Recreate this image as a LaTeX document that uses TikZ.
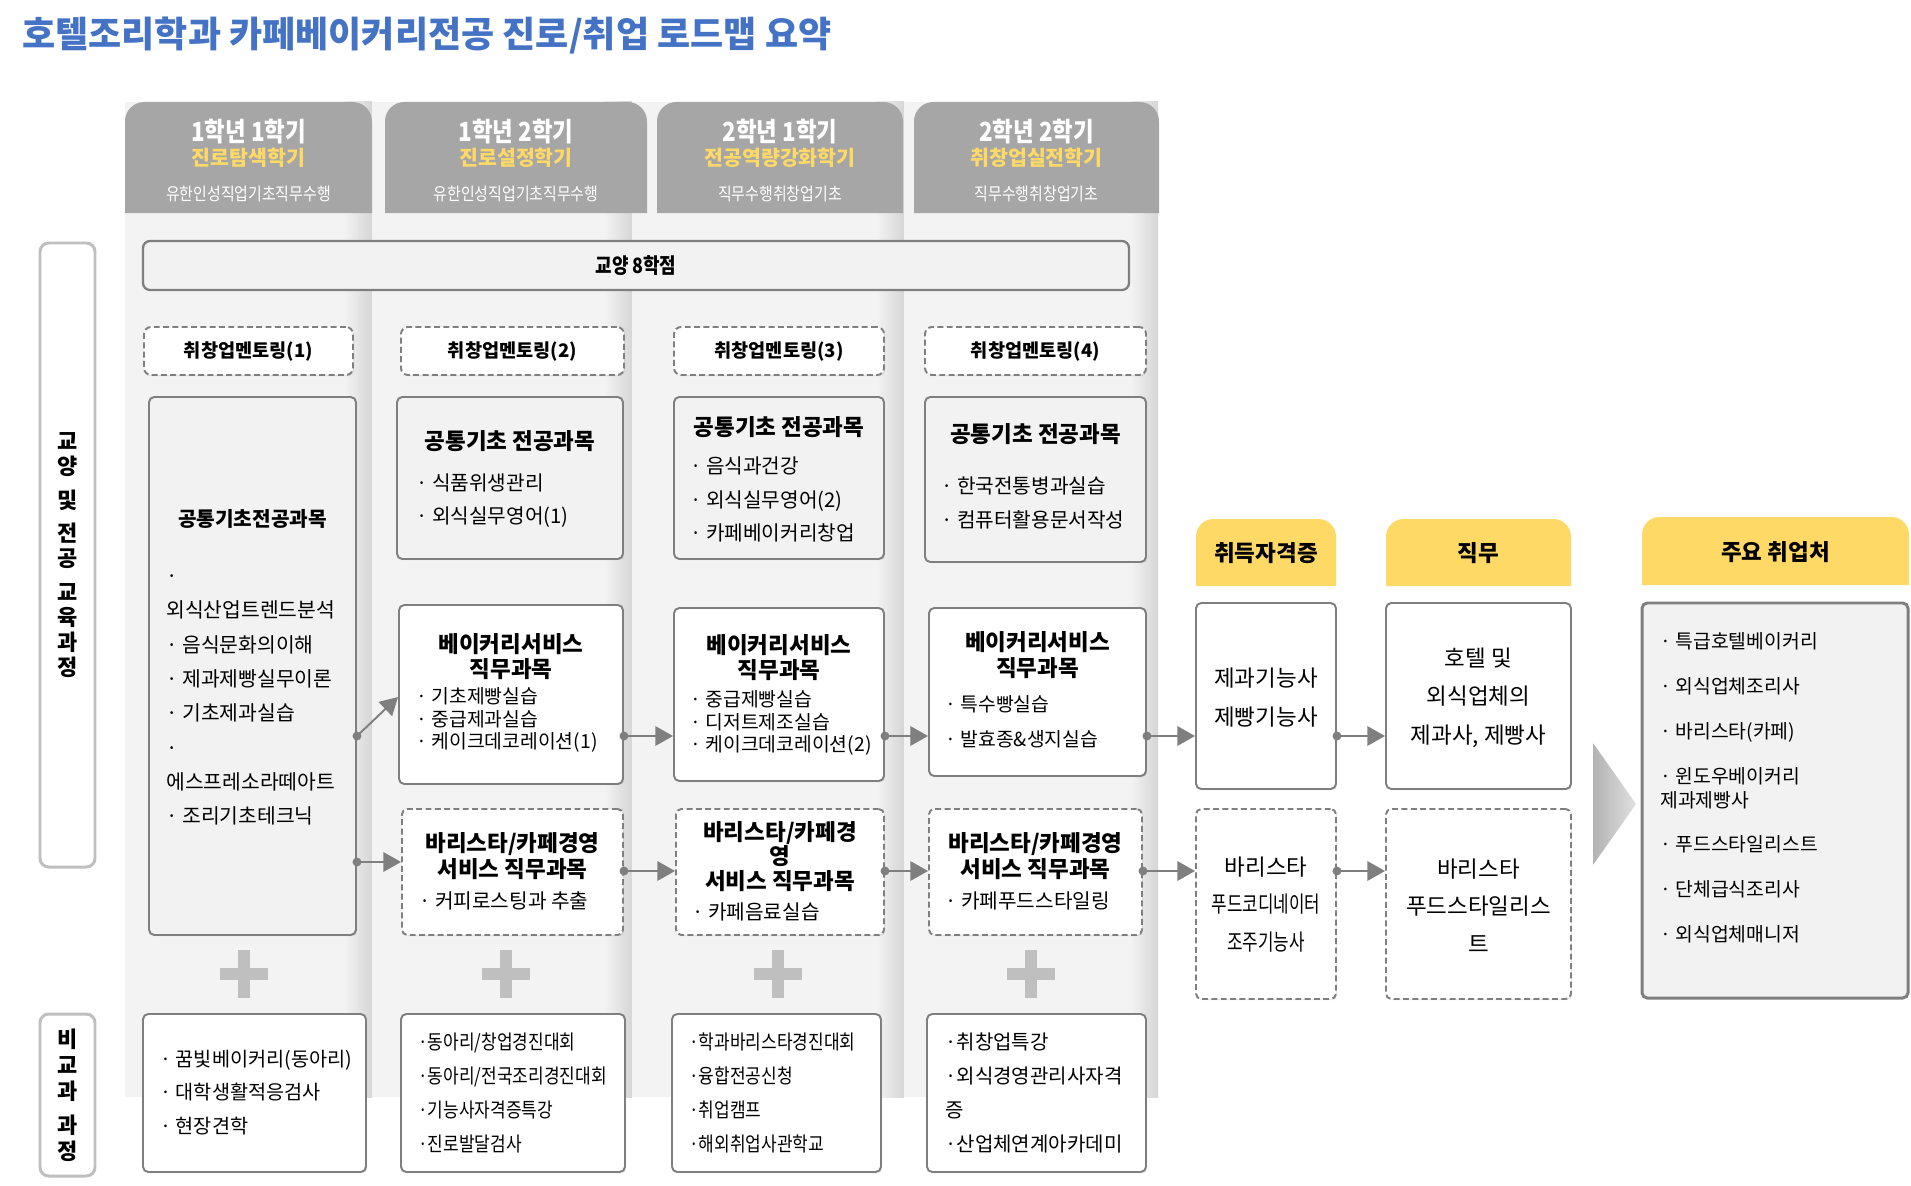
\documentclass[tikz,border=0pt]{standalone}
\usepackage{fontspec}
\setmainfont{Noto Sans CJK KR}
\newfontfamily\narrowfont[FakeStretch=0.85]{Noto Sans CJK KR}
\usepackage{xcolor}
\usepackage{tikz}
\usepackage{graphicx}
\usetikzlibrary{arrows.meta, positioning, calc, fit, shadows}

\definecolor{titleblue}{HTML}{4472C4}
\definecolor{headgray}{HTML}{A6A6A6}
\definecolor{headyellow}{HTML}{FFD966}
\definecolor{tabyellow}{HTML}{FFD966}
\definecolor{boxfill}{HTML}{F2F2F2}
\definecolor{boxline}{HTML}{7F7F7F}
\definecolor{colfill}{HTML}{F3F3F3}
\definecolor{coledge}{HTML}{D6D6D6}
\definecolor{plusgray}{HTML}{BFBFBF}
\definecolor{labelline}{HTML}{BFBFBF}

\tikzset{
  roadbox/.style={draw=boxline, line width=1.1pt, rounded corners=3pt, inner sep=0pt,
    drop shadow={shadow xshift=0.7pt, shadow yshift=-0.7pt, opacity=0.18}},
  graybox/.style={roadbox, fill=boxfill},
  whitebox/.style={roadbox, fill=white},
  dashbox/.style={roadbox, fill=white, dash pattern=on 3.4pt off 1.9pt},
  mentor/.style={dashbox, rounded corners=4pt},
  graybar/.style={draw=boxline, fill=boxfill, line width=1.3pt, rounded corners=4pt, inner sep=0pt},
  labelbox/.style={draw=labelline, fill=white, line width=1.7pt, rounded corners=5pt, inner sep=0pt},
  labeltext/.style={inner sep=0pt, align=center, font=\bfseries\fontsize{12.5}{14.2}\selectfont},
  titletext/.style={inner sep=0pt, anchor=west, text=titleblue, font=\bfseries\fontsize{20.5}{24}\selectfont},
  semtitle/.style={inner sep=0pt, text=white, font=\narrowfont\bfseries\fontsize{15}{17}\selectfont},
  semsub/.style={inner sep=0pt, text=headyellow, font=\bfseries\fontsize{11.7}{13}\selectfont},
  semnote/.style={inner sep=0pt, text=white, font=\narrowfont\fontsize{10}{11}\selectfont},
  centertext/.style={inner sep=0pt, font=\bfseries\fontsize{10.6}{12}\selectfont},
  boxtitle/.style={inner sep=0pt, align=center, font=\bfseries\fontsize{12.8}{14.5}\selectfont},
  itemtext/.style={inner sep=0pt, align=left, anchor=west, font=\fontsize{11.5}{19}\selectfont},
  tabtext/.style={inner sep=0pt, font=\bfseries\fontsize{12.8}{14}\selectfont},
  certtext/.style={inner sep=0pt, align=center, font=\fontsize{12.8}{22}\selectfont},
  plusmark/.style={draw=plusgray, line width=6.8pt},
  flow/.style={draw=boxline, line width=1.1pt, shorten <=-2.5pt,
    arrows={Circle[length=5pt]-Triangle[length=10pt,width=11pt]}}
}

\begin{document}
\begin{tikzpicture}[x=0.02cm, y=-0.02cm]
    \useasboundingbox (0,0) rectangle (1911,1186);

    % 제목
    \node[titletext] (title) at (22,36) {호텔조리학과 카페베이커리전공 진로/취업 로드맵 요약};

    % 학기별 열 배경
    \fill[colfill] (125,102) rectangle (372,1097);
    \shade[left color=colfill, right color=coledge] (344,102) rectangle (372,1097);
    \fill[colfill] (372,102) rectangle (632,1097);
    \shade[left color=colfill, right color=coledge] (604,102) rectangle (632,1097);
    \fill[colfill] (632,102) rectangle (904,1097);
    \shade[left color=colfill, right color=coledge] (876,102) rectangle (904,1097);
    \fill[colfill] (904,102) rectangle (1158,1097);
    \shade[left color=colfill, right color=coledge] (1130,102) rectangle (1158,1097);

    % 학기 헤더
    \fill[headgray, rounded corners=11pt] (125,213) -- (125,102) -- (372,102) -- (372,213);
    \node[semtitle] (sem1) at (248.5,132) {1학년 1학기};
    \node[semsub] (sem1b) at (248.5,158) {진로탐색학기};
    \node[semnote] (sem1c) at (248.5,194) {유한인성직업기초직무수행};

    \fill[headgray, rounded corners=11pt] (385,213) -- (385,102) -- (647,102) -- (647,213);
    \node[semtitle] (sem2) at (516,132) {1학년 2학기};
    \node[semsub] (sem2b) at (516,158) {진로설정학기};
    \node[semnote] (sem2c) at (516,194) {유한인성직업기초직무수행};

    \fill[headgray, rounded corners=11pt] (657,213) -- (657,102) -- (903,102) -- (903,213);
    \node[semtitle] (sem3) at (780,132) {2학년 1학기};
    \node[semsub] (sem3b) at (780,158) {전공역량강화학기};
    \node[semnote] (sem3c) at (780,194) {직무수행취창업기초};

    \fill[headgray, rounded corners=11pt] (914,213) -- (914,102) -- (1159,102) -- (1159,213);
    \node[semtitle] (sem4) at (1036.5,132) {2학년 2학기};
    \node[semsub] (sem4b) at (1036.5,158) {취창업실전학기};
    \node[semnote] (sem4c) at (1036.5,194) {직무수행취창업기초};

    % 왼쪽 구분 라벨
    \node[labelbox, fit={(40,243) (95,867)}] (lab1) {};
    \node[labeltext] (lab1t) at (lab1.center) {교\\양\\[5pt]및\\[5pt]전\\공\\[5pt]교\\육\\과\\정};
    \node[labelbox, fit={(40,1014) (95,1176)}] (lab2) {};
    \node[labeltext, font=\bfseries\fontsize{12.5}{14.8}\selectfont] (lab2t) at (lab2.center) {비\\교\\과\\[4.5pt]과\\정};

    % 교양, 멘토링
    \node[graybar, fit={(143,241) (1129,290)}] (liberal) {};
    \node[centertext, font=\narrowfont\bfseries\fontsize{12}{14}\selectfont] (liberalt) at (636,266) {교양 8학점};
    \node[mentor, fit={(144,327) (353,375)}] (ment1) {};
    \node[centertext] (ment1t) at (248.5,352) {취창업멘토링(1)};
    \node[mentor, fit={(401,327) (624,375)}] (ment2) {};
    \node[centertext] (ment2t) at (512.5,352) {취창업멘토링(2)};
    \node[mentor, fit={(674,327) (884,375)}] (ment3) {};
    \node[centertext] (ment3t) at (779,352) {취창업멘토링(3)};
    \node[mentor, fit={(925,327) (1146,375)}] (ment4) {};
    \node[centertext] (ment4t) at (1035.5,352) {취창업멘토링(4)};

    % 공통기초 전공과목
    \node[graybox, fit={(149,397) (356,935)}] (core1) {};
    \node[boxtitle, font=\bfseries\fontsize{11.5}{14}\selectfont] (core1t) at (252.5,519) {공통기초전공과목};
    \node[itemtext, font=\fontsize{11.6}{19.5}\selectfont] (core1i) at (166,700)
        {·\\외식산업트렌드분석\\· 음식문화의이해\\· 제과제빵실무이론\\· 기초제과실습\\·\\에스프레소라떼아트\\· 조리기초테크닉};

    \node[graybox, fit={(397,397) (623,559)}] (core2) {};
    \node[boxtitle] (core2t) at (510,441) {공통기초 전공과목};
    \node[itemtext] (core2i) at (416,500.5) {· 식품위생관리\\· 외식실무영어(1)};

    \node[graybox, fit={(674,397) (884,559)}] (core3) {};
    \node[boxtitle] (core3t) at (779,427) {공통기초 전공과목};
    \node[itemtext] (core3i) at (690,499.5) {· 음식과건강\\· 외식실무영어(2)\\· 카페베이커리창업};

    \node[graybox, fit={(925,397) (1146,562)}] (core4) {};
    \node[boxtitle] (core4t) at (1035.5,434) {공통기초 전공과목};
    \node[itemtext] (core4i) at (941,503) {· 한국전통병과실습\\· 컴퓨터활용문서작성};

    % 베이커리서비스 직무과목
    \node[whitebox, fit={(399,605) (623,784)}] (bake2) {};
    \node[boxtitle] (bake2t) at (511,656.5) {베이커리서비스\\직무과목};
    \node[itemtext, font=\fontsize{11}{12.8}\selectfont] (bake2i) at (416,720) {· 기초제빵실습\\· 중급제과실습\\· 케이크데코레이션(1)};

    \node[whitebox, fit={(674,608) (884,781)}] (bake3) {};
    \node[boxtitle] (bake3t) at (779,657.5) {베이커리서비스\\직무과목};
    \node[itemtext, font=\fontsize{11}{12.8}\selectfont] (bake3i) at (690,723) {· 중급제빵실습\\· 디저트제조실습\\· 케이크데코레이션(2)};

    \node[whitebox, fit={(929,608) (1146,776)}] (bake4) {};
    \node[boxtitle] (bake4t) at (1037.5,655) {베이커리서비스\\직무과목};
    \node[itemtext, font=\fontsize{11}{19.9}\selectfont] (bake4i) at (945,721.5) {· 특수빵실습\\· 발효종\&생지실습};

    % 바리스타/카페경영 서비스 직무과목
    \node[dashbox, fit={(402,809) (623,935)}] (bar2) {};
    \node[boxtitle] (bar2t) at (512.5,856) {바리스타/카페경영\\서비스 직무과목};
    \node[itemtext] (bar2i) at (419,901) {· 커피로스팅과 추출};

    \node[dashbox, fit={(676,809) (884,935)}] (bar3) {};
    \node[boxtitle, font=\bfseries\fontsize{12.8}{14}\selectfont] (bar3t) at (780,856.5) {바리스타/카페경\\영\\서비스 직무과목};
    \node[itemtext] (bar3i) at (692,912) {· 카페음료실습};

    \node[dashbox, fit={(929,809) (1142,935)}] (bar4) {};
    \node[boxtitle] (bar4t) at (1035.5,856) {바리스타/카페경영\\서비스 직무과목};
    \node[itemtext] (bar4i) at (945,901) {· 카페푸드스타일링};

    % 비교과 +
    \draw[plusmark] (244,950) -- (244,998) (220,974) -- (268,974);
    \draw[plusmark] (506,950) -- (506,998) (482,974) -- (530,974);
    \draw[plusmark] (778,950) -- (778,998) (754,974) -- (802,974);
    \draw[plusmark] (1031,950) -- (1031,998) (1007,974) -- (1055,974);

    % 비교과 과정
    \node[whitebox, fit={(143,1014) (366,1172)}] (etc1) {};
    \node[itemtext, font=\fontsize{11.2}{19}\selectfont] (etc1i) at (160,1092.5) {· 꿈빛베이커리(동아리)\\· 대학생활적응검사\\· 현장견학};
    \node[whitebox, fit={(401,1014) (625,1172)}] (etc2) {};
    \node[itemtext, font=\narrowfont\fontsize{11.4}{19.3}\selectfont] (etc2i) at (418,1093) {·동아리/창업경진대회\\·동아리/전국조리경진대회\\·기능사자격증특강\\·진로발달검사};
    \node[whitebox, fit={(672,1014) (881,1172)}] (etc3) {};
    \node[itemtext, font=\narrowfont\fontsize{11.4}{19.3}\selectfont] (etc3i) at (689,1093) {·학과바리스타경진대회\\·융합전공신청\\·취업캠프\\·해외취업사관학교};
    \node[whitebox, fit={(927,1014) (1146,1172)}] (etc4) {};
    \node[itemtext, font=\fontsize{11.4}{19.3}\selectfont] (etc4i) at (945,1093) {·취창업특강\\·외식경영관리사자격\\증\\·산업체연계아카데미};

    % 취득자격증, 직무, 주요 취업처
    \fill[tabyellow, rounded corners=10pt] (1196,586) -- (1196,519) -- (1336,519) -- (1336,586);
    \node[tabtext] (tab1) at (1266,553) {취득자격증};
    \fill[tabyellow, rounded corners=10pt] (1386,586) -- (1386,519) -- (1571,519) -- (1571,586);
    \node[tabtext] (tab2) at (1478.5,553) {직무};
    \fill[tabyellow, rounded corners=10pt] (1642,585) -- (1642,517) -- (1909,517) -- (1909,585);
    \node[tabtext] (tab3) at (1775.5,552) {주요 취업처};

    \node[whitebox, fit={(1196,603) (1336,789)}] (cert1) {};
    \node[certtext] (cert1t) at (1266,697.5) {제과기능사\\제빵기능사};
    \node[dashbox, fit={(1196,809) (1336,999)}] (cert2) {};
    \node[certtext, font=\fontsize{12.8}{21.3}\selectfont] (cert2t) at (1266,904.5)
        {바리스타\\\scalebox{0.75}[1]{푸드코디네이터}\\\scalebox{0.75}[1]{조주기능사}};
    \node[whitebox, fit={(1386,603) (1571,789)}] (job1) {};
    \node[certtext, font=\fontsize{12.8}{21.9}\selectfont] (job1t) at (1478.5,697.5) {호텔 및\\외식업체의\\제과사, 제빵사};
    \node[dashbox, fit={(1386,809) (1571,999)}] (job2) {};
    \node[certtext, font=\fontsize{12.8}{21.3}\selectfont] (job2t) at (1478.5,905.5) {바리스타\\푸드스타일리스\\트};

    % 큰 화살표
    \shade[left color=black!30, right color=black!12] (1593,743) -- (1636,804) -- (1593,865) -- cycle;

    \node[graybox, line width=1.7pt, fit={(1642,603) (1908,998)}] (emp) {};
    \node[itemtext, font=\fontsize{11}{13.7}\selectfont] (empi) at (1660,787.5)
        {· 특급호텔베이커리\\[12pt]· 외식업체조리사\\[12pt]· 바리스타(카페)\\[12pt]· 윈도우베이커리\\제과제빵사\\[11pt]· 푸드스타일리스트\\[12pt]· 단체급식조리사\\[12pt]· 외식업체매니저};

    % 연결 화살표
    \coordinate (rowA) at (0,736);
    \coordinate (rowB) at (0,871);
    \coordinate (rowC) at (0,862);
    \coordinate (rowD) at (0,697);
    \draw[flow] (core1.east |- rowA) -- (bake2.west |- rowD);
    \draw[flow] (core1.east |- rowC) -- (bar2.west |- rowC);
    \draw[flow] (bake2.east |- rowA) -- (bake3.west |- rowA);
    \draw[flow] (bake3.east |- rowA) -- (bake4.west |- rowA);
    \draw[flow] (bake4.east |- rowA) -- (cert1.west |- rowA);
    \draw[flow] (cert1.east |- rowA) -- (job1.west |- rowA);
    \draw[flow] (bar2.east |- rowB) -- (bar3.west |- rowB);
    \draw[flow] (bar3.east |- rowB) -- (bar4.west |- rowB);
    \draw[flow] (bar4.east |- rowB) -- (cert2.west |- rowB);
    \draw[flow] (cert2.east |- rowB) -- (job2.west |- rowB);
\end{tikzpicture}
\end{document}
